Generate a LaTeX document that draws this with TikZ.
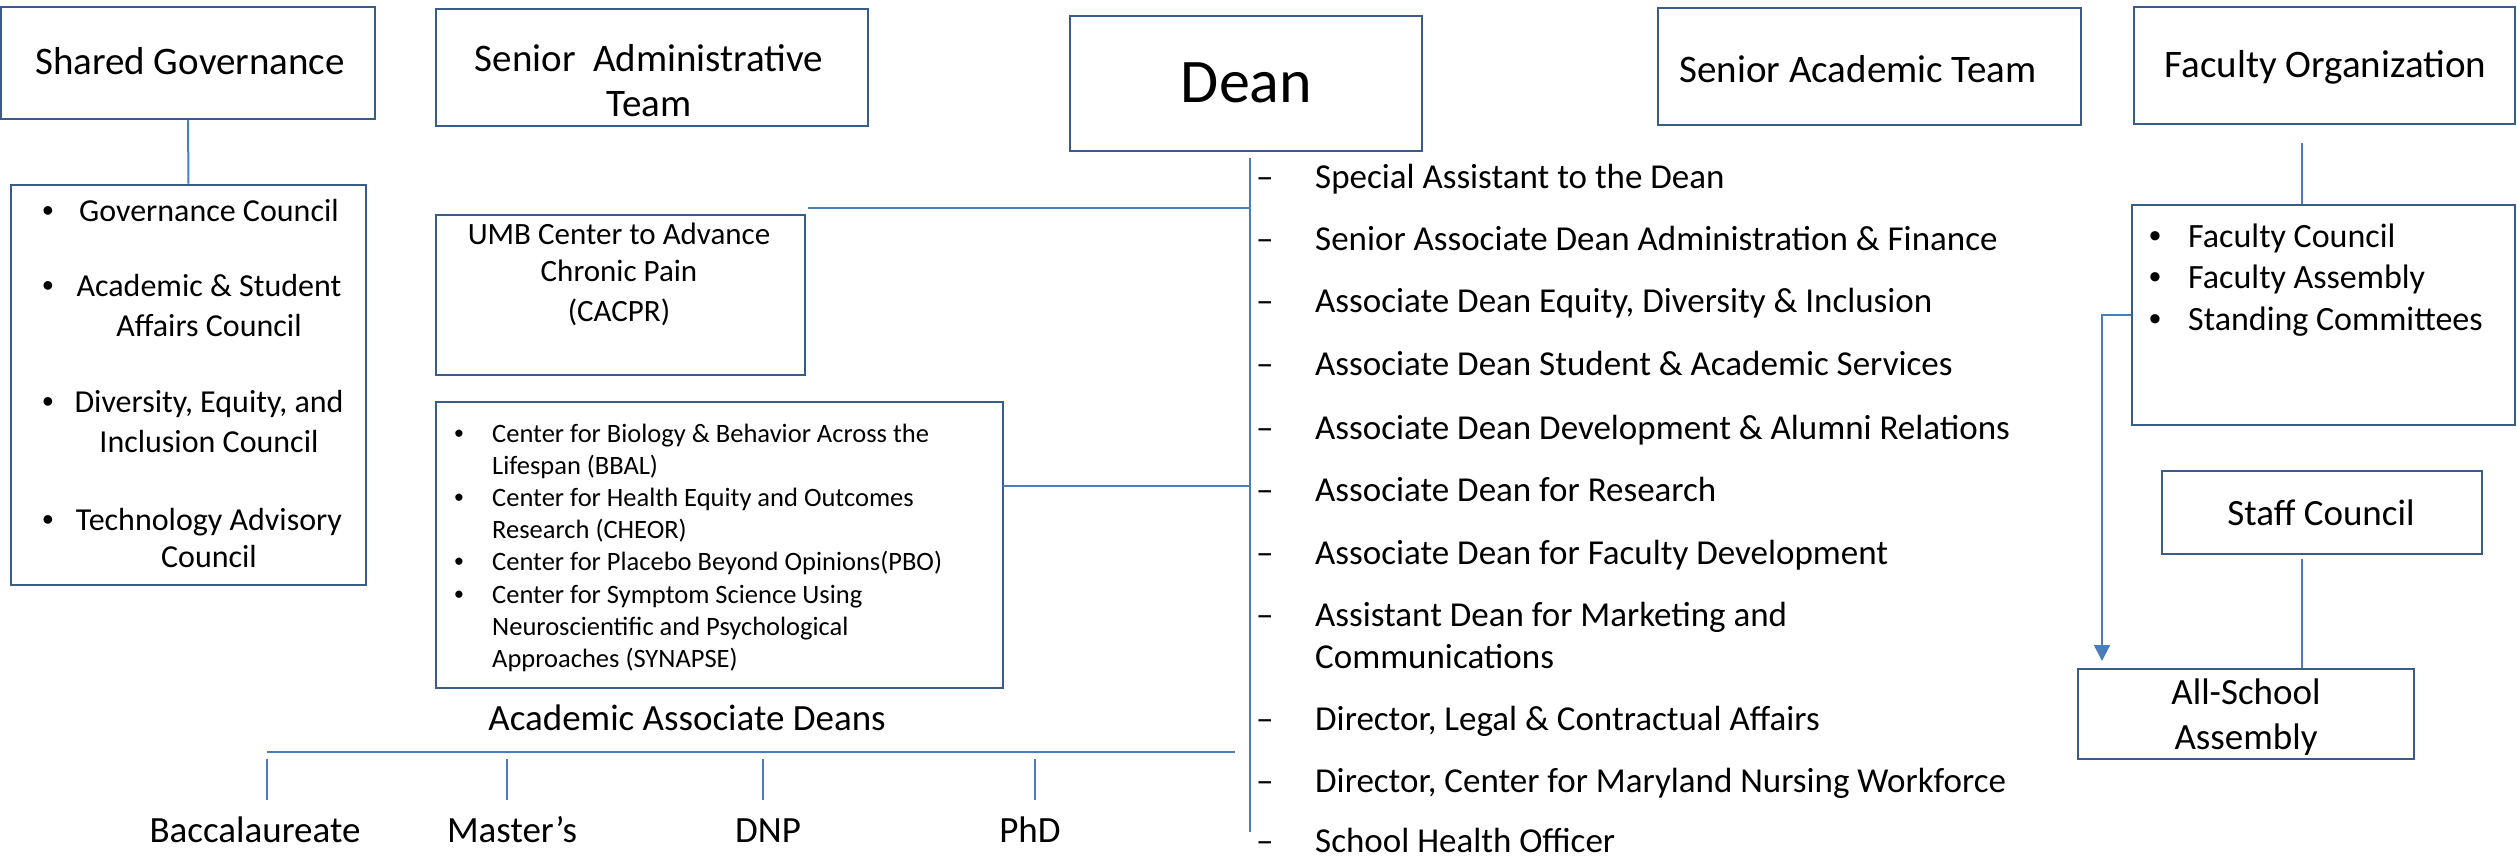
\documentclass[tikz,border=0pt]{standalone}
\usepackage{fontspec}
\setmainfont{Carlito}
\newfontfamily\bulletfont{Liberation Sans}
\usetikzlibrary{arrows.meta}
\definecolor{boxblue}{HTML}{385D8A}
\definecolor{lineblue}{HTML}{4A7EBB}
\begin{document}
\begin{tikzpicture}[x=1pt,y=-1pt,
  box/.style={draw=boxblue,line width=2.5pt,inner sep=0pt,fill=white},
  conn/.style={draw=lineblue,line width=2pt},
  T/.style={inner sep=0pt,anchor=base},
  TL/.style={inner sep=0pt,anchor=base west},
  BU/.style={inner sep=0pt,anchor=base,font=\bulletfont\fontsize{#1}{#1}\selectfont},
  f62/.style={font=\fontsize{62}{74}\selectfont},
  f39/.style={font=\fontsize{39}{47}\selectfont},
  f37/.style={font=\fontsize{37}{45}\selectfont},
  f35/.style={font=\fontsize{35}{42}\selectfont},
  f34/.style={font=\fontsize{34}{41}\selectfont},
  f32/.style={font=\fontsize{32}{39}\selectfont},
  f31/.style={font=\fontsize{31}{38}\selectfont},
  f26/.style={font=\fontsize{26.5}{32}\selectfont}]
\fill[white] (0,0) rectangle (2517,858);
\useasboundingbox (0,0) rectangle (2517,858);

% ---------- boxes ----------
\node[box,minimum width=374pt,minimum height=112pt] (sg) at (188,63) {};
\node[box,minimum width=432pt,minimum height=117pt] (sat) at (652,67.5) {};
\node[box,minimum width=352pt,minimum height=135pt] (dean) at (1246,83.5) {};
\node[box,minimum width=423pt,minimum height=117pt] (sact) at (1869.5,66.5) {};
\node[box,minimum width=381pt,minimum height=117pt] (fo) at (2324.5,65.5) {};
\node[box,minimum width=355pt,minimum height=400pt] (gl) at (188.5,385) {};
\node[box,minimum width=369pt,minimum height=160pt] (umb) at (620.5,295) {};
\node[box,minimum width=567pt,minimum height=286pt] (ctr) at (719.5,545) {};
\node[box,minimum width=383pt,minimum height=220pt] (fl) at (2323.5,315) {};
\node[box,minimum width=320pt,minimum height=83pt] (staff) at (2322,512.5) {};
\node[box,minimum width=336pt,minimum height=90pt] (asa) at (2246,714) {};

% ---------- headers ----------
\node[T,f39] (sgT) at (190,75) {Shared Governance};
\node[T,f39] (satT1) at (649,72) {Senior\ \ Administrative};
\node[T,f39] (satT2) at (649,117) {Team};
\node[T,f62] (deanT) at (1246.5,103) {Dean};
\node[T,f39] (sactT) at (1858,83) {Senior Academic Team};
\node[T,f39] (foT) at (2325.5,78) {Faculty Organization};

% ---------- governance list ----------
\node[BU=32] (g1b) at (48,222) {•};
\node[T,f32] (g1) at (209,222) {Governance Council};
\node[BU=32] (g2b) at (48,297) {•};
\node[T,f32] (g2) at (209,297) {Academic \& Student};
\node[T,f32] (g2c) at (209,337) {Affairs Council};
\node[BU=32] (g3b) at (48,413) {•};
\node[T,f32] (g3) at (209,413) {Diversity, Equity, and};
\node[T,f32] (g3c) at (209,452) {Inclusion Council};
\node[BU=32] (g4b) at (48,530) {•};
\node[T,f32] (g4) at (209,530) {Technology Advisory};
\node[T,f32] (g4c) at (209,567) {Council};

% ---------- UMB center ----------
\node[T,f31] (u1) at (619,245) {UMB Center to Advance};
\node[T,f31] (u2) at (619,282) {Chronic Pain};
\node[T,f31] (u3) at (619,322) {(CACPR)};

% ---------- centers ----------
\node[BU=26.5] (c1b) at (459,442.5) {•};
\node[TL,f26] (c1) at (492,442.5) {Center for Biology \& Behavior Across the};
\node[TL,f26] (c2) at (492,474.6) {Lifespan (BBAL)};
\node[BU=26.5] (c3b) at (459,506.7) {•};
\node[TL,f26] (c3) at (492,506.7) {Center for Health Equity and Outcomes};
\node[TL,f26] (c4) at (492,538.8) {Research (CHEOR)};
\node[BU=26.5] (c5b) at (459,570.9) {•};
\node[TL,f26] (c5) at (492,570.9) {Center for Placebo Beyond Opinions(PBO)};
\node[BU=26.5] (c6b) at (459,603) {•};
\node[TL,f26] (c6) at (492,603) {Center for Symptom Science Using};
\node[TL,f26] (c7) at (492,635.1) {Neuroscientific and Psychological};
\node[TL,f26] (c8) at (492,667.2) {Approaches (SYNAPSE)};

% ---------- dean's list ----------
\node[TL,f35] (d1m) at (1256,189) {–};
\node[TL,f35] (d1) at (1315,189) {Special Assistant to the Dean};
\node[TL,f35] (d2m) at (1256,251) {–};
\node[TL,f35] (d2) at (1315,251) {Senior Associate Dean Administration \& Finance};
\node[TL,f35] (d3m) at (1256,313) {–};
\node[TL,f35] (d3) at (1315,313) {Associate Dean Equity, Diversity \& Inclusion};
\node[TL,f35] (d4m) at (1256,376) {–};
\node[TL,f35] (d4) at (1315,376) {Associate Dean Student \& Academic Services};
\node[TL,f35] (d5m) at (1256,439) {–};
\node[TL,f35] (d5) at (1315,439) {Associate Dean Development \& Alumni Relations};
\node[TL,f35] (d6m) at (1256,501) {–};
\node[TL,f35] (d6) at (1315,501) {Associate Dean for Research};
\node[TL,f35] (d7m) at (1256,564) {–};
\node[TL,f35] (d7) at (1315,564) {Associate Dean for Faculty Development};
\node[TL,f35] (d8m) at (1256,626) {–};
\node[TL,f35] (d8) at (1315,626) {Assistant Dean for Marketing and};
\node[TL,f35] (d8c) at (1315,668) {Communications};
\node[TL,f35] (d9m) at (1256,730) {–};
\node[TL,f35] (d9) at (1315,730) {Director, Legal \& Contractual Affairs};
\node[TL,f35] (d10m) at (1256,792) {–};
\node[TL,f35] (d10) at (1315,792) {Director, Center for Maryland Nursing Workforce};
\node[TL,f35] (d11m) at (1256,852) {–};
\node[TL,f35] (d11) at (1315,852) {School Health Officer};

% ---------- academic associate deans ----------
\node[T,f37] (aad) at (687,730) {Academic Associate Deans};
\node[T,f37] (bac) at (255,842) {Baccalaureate};
\node[T,f37] (mas) at (512,842) {Master’s};
\node[T,f37] (dnp) at (768,842) {DNP};
\node[T,f37] (phd) at (1030,842) {PhD};

% ---------- faculty list ----------
\node[BU=34] (f1b) at (2155,248) {•};
\node[TL,f34] (f1) at (2188,248) {Faculty Council};
\node[BU=34] (f2b) at (2155,289) {•};
\node[TL,f34] (f2) at (2188,289) {Faculty Assembly};
\node[BU=34] (f3b) at (2155,331) {•};
\node[TL,f34] (f3) at (2188,331) {Standing Committees};

\node[T,f37] (staffT) at (2321,525) {Staff Council};
\node[T,f37] (asaT1) at (2246,704) {All-School};
\node[T,f37] (asaT2) at (2246,749) {Assembly};

% ---------- connectors ----------
\draw[conn] (sg.south) -- (gl.north);
\coordinate (spTop) at (1250,158);
\coordinate (spBot) at (1250,832);
\draw[conn] (spTop) -- (spBot);
\coordinate (umbC) at (808,208);
\draw[conn] (umbC) -- (umbC -| spTop);
\coordinate (ctrC) at (1003,486);
\draw[conn] (ctrC) -- (ctrC -| spTop);
\coordinate (aL) at (267,752);
\coordinate (aR) at (1235,752);
\draw[conn] (aL) -- (aR);
\coordinate (t1a) at (267,759); \coordinate (t1b) at (267,800);
\coordinate (t2a) at (507,759); \coordinate (t2b) at (507,800);
\coordinate (t3a) at (763,759); \coordinate (t3b) at (763,800);
\coordinate (t4a) at (1035,759); \coordinate (t4b) at (1035,800);
\draw[conn] (t1a) -- (t1b);
\draw[conn] (t2a) -- (t2b);
\draw[conn] (t3a) -- (t3b);
\draw[conn] (t4a) -- (t4b);
\coordinate (foC) at (2302,143);
\draw[conn] (foC) -- (foC |- fl.north);
\coordinate (stC) at (2302,559);
\draw[conn] (stC) -- (stC |- asa.north);
\coordinate (arrB) at (2102,315);
\coordinate (arrC) at (2102,661);
\draw[conn,-{Triangle[width=16pt,length=16pt]}] (fl.west) -- (arrB) -- (arrC);
\end{tikzpicture}
\end{document}
